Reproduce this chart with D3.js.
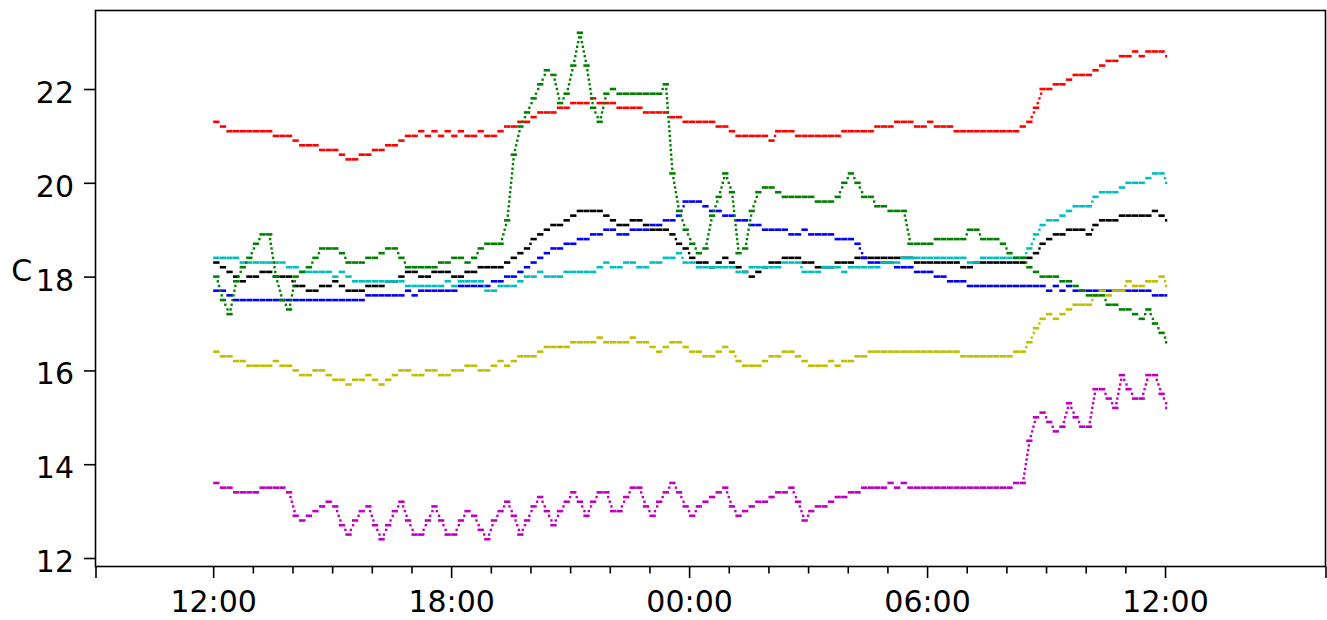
<!DOCTYPE html>
<html><head><meta charset="utf-8">
<script src="https://cdn.jsdelivr.net/npm/d3@7"></script>
<style>
body{margin:0;background:#fff}
text{font-family:"DejaVu Sans",sans-serif}
</style>
</head><body>
<svg id="chart" width="1327" height="620"></svg>
<script>
// ---- data (10-minute samples from 12:00 to 12:00 next day) ----
const startTime = new Date(2021, 0, 1, 12, 0, 0);
const stepMinutes = 10;
const majorTickLabels = ["12:00", "18:00", "00:00", "06:00", "12:00"];
const yTickValues = [12, 14, 16, 18, 20, 22];
const yLabel = "C";

const redValues = [21.3,21.2,21.1,21.1,21.1,21.1,21.1,21.1,21.1,21.0,
21.0,21.0,20.9,20.8,20.8,20.8,20.7,20.7,20.7,20.6,
20.5,20.5,20.6,20.6,20.7,20.7,20.8,20.8,20.9,21.0,
21.0,21.1,21.0,21.1,21.0,21.1,21.0,21.1,21.0,21.0,
21.1,21.0,21.0,21.1,21.2,21.2,21.3,21.3,21.4,21.5,
21.5,21.5,21.6,21.6,21.7,21.7,21.7,21.8,21.7,21.7,
21.7,21.6,21.6,21.6,21.6,21.5,21.5,21.5,21.5,21.4,
21.4,21.3,21.3,21.3,21.3,21.3,21.2,21.2,21.1,21.0,
21.0,21.0,21.0,21.0,20.9,21.1,21.1,21.1,21.0,21.0,
21.0,21.0,21.0,21.0,21.0,21.1,21.1,21.1,21.1,21.1,
21.2,21.2,21.2,21.3,21.3,21.3,21.2,21.2,21.3,21.2,
21.2,21.2,21.1,21.1,21.1,21.1,21.1,21.1,21.1,21.1,
21.1,21.1,21.2,21.3,21.6,22.0,22.0,22.1,22.1,22.2,
22.3,22.3,22.3,22.4,22.5,22.6,22.6,22.7,22.7,22.8,
22.7,22.8,22.8,22.8,22.7];

const greenValues = [18.0,17.5,17.2,17.9,18.2,18.4,18.7,18.9,18.9,18.0,
17.5,17.3,18.0,18.1,18.2,18.4,18.6,18.6,18.6,18.5,
18.3,18.3,18.3,18.4,18.4,18.5,18.6,18.6,18.4,18.2,
18.2,18.2,18.2,18.2,18.3,18.3,18.4,18.4,18.3,18.4,
18.6,18.7,18.7,18.7,19.2,20.6,21.2,21.5,21.8,22.1,
22.4,22.3,21.7,21.9,22.5,23.2,22.5,21.6,21.3,21.9,
22.0,21.9,21.9,21.9,21.9,21.9,21.9,21.9,22.1,20.2,
19.4,19.0,18.7,18.5,18.6,19.3,19.7,20.2,19.8,18.5,
18.6,19.4,19.8,19.9,19.9,19.8,19.7,19.7,19.7,19.7,
19.7,19.6,19.6,19.6,19.7,20.0,20.2,20.0,19.7,19.7,
19.5,19.5,19.4,19.4,19.4,18.7,18.7,18.7,18.7,18.8,
18.8,18.8,18.8,18.8,19.0,19.0,18.8,18.8,18.8,18.7,
18.5,18.4,18.4,18.2,18.1,18.0,18.0,18.0,17.9,17.9,
17.8,17.7,17.6,17.6,17.6,17.4,17.4,17.3,17.3,17.2,
17.1,17.3,17.0,16.8,16.6];

const cyanValues = [18.4,18.4,18.4,18.4,18.3,18.3,18.3,18.3,18.3,18.3,
18.3,18.2,18.2,18.1,18.1,18.1,18.1,18.1,18.0,18.1,
18.0,17.9,17.9,17.9,17.9,17.9,17.9,17.9,17.9,17.8,
17.8,17.8,17.8,17.8,17.8,17.9,17.8,17.9,17.9,17.9,
17.9,17.7,17.7,17.8,17.8,17.8,17.9,18.0,18.0,18.1,
18.0,18.0,18.0,18.1,18.1,18.1,18.1,18.1,18.2,18.3,
18.2,18.2,18.3,18.3,18.2,18.2,18.3,18.3,18.4,18.4,
18.5,18.3,18.3,18.2,18.2,18.2,18.2,18.2,18.2,18.1,
18.1,18.2,18.2,18.2,18.2,18.2,18.3,18.3,18.3,18.1,
18.1,18.1,18.2,18.2,18.2,18.1,18.2,18.2,18.2,18.2,
18.2,18.3,18.3,18.3,18.4,18.4,18.4,18.4,18.4,18.4,
18.4,18.4,18.4,18.4,18.3,18.3,18.4,18.4,18.4,18.4,
18.4,18.4,18.4,18.6,18.9,19.1,19.2,19.2,19.3,19.4,
19.5,19.5,19.5,19.7,19.8,19.8,19.8,19.9,20.0,20.0,
20.0,20.1,20.2,20.2,20.0];

const blackValues = [18.3,18.2,18.1,18.0,17.9,18.0,18.0,18.1,18.1,18.0,
18.0,18.0,17.8,17.8,17.7,17.7,17.8,17.8,17.9,17.8,
17.7,17.7,17.7,17.8,17.8,17.8,17.9,17.9,18.0,18.1,
18.1,18.0,18.0,18.1,18.1,18.1,18.0,18.0,18.1,18.1,
18.2,18.2,18.2,18.2,18.3,18.4,18.5,18.6,18.8,18.9,
19.0,19.1,19.1,19.2,19.3,19.4,19.4,19.4,19.4,19.3,
19.2,19.1,19.1,19.2,19.2,19.1,19.0,19.0,19.0,18.9,
18.7,18.6,18.4,18.3,18.3,18.2,18.3,18.4,18.3,18.2,
18.1,18.0,18.1,18.2,18.3,18.3,18.4,18.4,18.4,18.3,
18.3,18.2,18.2,18.2,18.3,18.3,18.3,18.4,18.4,18.4,
18.4,18.4,18.4,18.4,18.4,18.4,18.3,18.3,18.3,18.3,
18.3,18.3,18.3,18.2,18.2,18.3,18.3,18.3,18.3,18.3,
18.3,18.3,18.3,18.4,18.5,18.7,18.8,18.9,18.9,19.0,
19.0,19.0,18.9,19.1,19.2,19.2,19.2,19.3,19.3,19.3,
19.3,19.3,19.4,19.3,19.2];

const blueValues = [17.7,17.7,17.6,17.5,17.5,17.5,17.5,17.5,17.5,17.5,
17.5,17.5,17.5,17.5,17.5,17.5,17.5,17.5,17.5,17.5,
17.5,17.5,17.5,17.6,17.6,17.6,17.6,17.6,17.6,17.7,
17.6,17.7,17.7,17.7,17.7,17.7,17.7,17.8,17.8,17.8,
17.8,17.8,17.9,17.9,18.0,18.0,18.1,18.2,18.3,18.4,
18.5,18.6,18.6,18.7,18.7,18.8,18.8,18.9,18.9,19.0,
19.0,18.9,18.9,19.0,19.0,19.0,19.1,19.1,19.2,19.2,
19.3,19.6,19.6,19.6,19.5,19.4,19.4,19.3,19.3,19.2,
19.2,19.1,19.1,19.0,19.0,19.0,19.0,18.9,18.9,19.0,
18.9,18.9,18.9,18.9,18.8,18.8,18.8,18.7,18.4,18.3,
18.3,18.3,18.3,18.2,18.2,18.2,18.1,18.1,18.1,18.0,
18.0,17.9,17.9,17.9,17.8,17.8,17.8,17.8,17.8,17.8,
17.8,17.8,17.8,17.8,17.8,17.8,17.7,17.8,17.7,17.8,
17.7,17.7,17.7,17.7,17.7,17.7,17.7,17.7,17.7,17.7,
17.7,17.7,17.6,17.6,17.6];

const yellowValues = [16.4,16.3,16.3,16.2,16.2,16.1,16.1,16.1,16.1,16.2,
16.1,16.1,16.0,15.9,15.9,16.0,16.0,15.9,15.8,15.8,
15.7,15.8,15.8,15.9,15.8,15.7,15.8,15.9,16.0,16.0,
15.9,15.9,16.0,16.0,15.9,15.9,16.0,16.0,16.1,16.1,
16.0,16.0,16.1,16.2,16.1,16.2,16.3,16.3,16.3,16.4,
16.5,16.5,16.5,16.5,16.6,16.6,16.6,16.6,16.7,16.6,
16.6,16.6,16.6,16.7,16.6,16.6,16.5,16.4,16.5,16.6,
16.6,16.5,16.4,16.4,16.3,16.3,16.4,16.5,16.4,16.2,
16.1,16.1,16.1,16.2,16.3,16.3,16.4,16.4,16.3,16.2,
16.1,16.1,16.1,16.2,16.1,16.2,16.2,16.3,16.3,16.4,
16.4,16.4,16.4,16.4,16.4,16.4,16.4,16.4,16.4,16.4,
16.4,16.4,16.4,16.3,16.3,16.3,16.3,16.3,16.3,16.3,
16.3,16.4,16.4,16.6,16.9,17.1,17.2,17.1,17.2,17.3,
17.4,17.4,17.4,17.6,17.7,17.6,17.7,17.7,17.9,17.8,
17.8,17.9,17.9,18.0,17.8];

const magentaValues = [13.6,13.5,13.5,13.4,13.4,13.4,13.4,13.5,13.5,13.5,
13.5,13.4,12.9,12.8,12.9,13.0,13.1,13.2,13.1,12.7,
12.5,12.8,13.0,13.1,12.7,12.4,12.7,13.0,13.2,12.8,
12.5,12.5,12.8,13.1,12.8,12.5,12.5,12.8,13.0,12.9,
12.6,12.4,12.8,13.0,13.2,12.9,12.5,12.8,13.1,13.3,
13.0,12.7,13.0,13.2,13.4,13.2,12.9,13.2,13.4,13.4,
13.0,13.0,13.3,13.5,13.5,13.1,12.9,13.2,13.4,13.6,
13.4,13.1,12.9,13.1,13.2,13.3,13.4,13.5,13.1,12.9,
13.0,13.1,13.2,13.2,13.3,13.4,13.4,13.5,13.2,12.8,
13.0,13.1,13.1,13.2,13.3,13.3,13.4,13.4,13.5,13.5,
13.5,13.5,13.6,13.5,13.6,13.5,13.5,13.5,13.5,13.5,
13.5,13.5,13.5,13.5,13.5,13.5,13.5,13.5,13.5,13.5,
13.5,13.6,13.6,14.5,15.0,15.1,14.9,14.7,14.8,15.3,
15.0,14.8,14.8,15.6,15.6,15.4,15.2,15.9,15.6,15.4,
15.4,15.9,15.9,15.5,15.2];

// draw order (bottom to top) and matplotlib single-letter colours
const seriesList = [
  {values: blackValues, color: "#000000"},
  {values: blueValues, color: "#0000ff"},
  {values: cyanValues, color: "#00bfbf"},
  {values: yellowValues, color: "#bfbf00"},
  {values: redValues, color: "#ff0000"},
  {values: magentaValues, color: "#bf00bf"},
  {values: greenValues, color: "#008000"}
];

// ---- layout ----
const svg = d3.select("#chart");
const W = 1327, H = 620;
const plotLeft = 95.5, plotRight = 1325.5, plotTop = 10.5, plotBottom = 566.5;
const HOUR = 3600e3;
const timeAt = i => new Date(startTime.getTime() + i * stepMinutes * 60000);

const x = d3.scaleTime()
  .domain([new Date(startTime.getTime() - 2.967 * HOUR), new Date(startTime.getTime() + 28.046 * HOUR)])
  .range([plotLeft, plotRight]);
const y = d3.scaleLinear().domain([11.819, 23.674]).range([plotBottom, plotTop]);

svg.append("rect").attr("width", W).attr("height", H).attr("fill", "#fff");

const stepPx = x(timeAt(1)) - x(timeAt(0));
const plot = svg.append("g");
const markH = 2.6;

seriesList.forEach(s => {
  const g = plot.append("g").attr("fill", s.color);
  const n = s.values.length;
  g.selectAll("rect.seg").data(s.values).join("rect")
    .attr("class", "seg")
    .attr("x", (d, i) => x(timeAt(i)))
    .attr("y", d => y(d) - markH / 2)
    .attr("width", (d, i) => (i < n - 1 ? stepPx : 2.5) - 0.3)
    .attr("height", markH);
  // dotted transitions between consecutive samples (0.1 C levels)
  const dots = [];
  for (let i = 0; i < n - 1; i++) {
    const a = s.values[i], b = s.values[i + 1];
    const k = Math.round(Math.abs(b - a) * 10);
    if (k < 2) continue;
    const xa = x(timeAt(i)) + stepPx * 0.5, xb = x(timeAt(i + 1)) + stepPx * 0.5;
    for (let j = 1; j < k; j++) {
      const f = j / k;
      dots.push([xa + (xb - xa) * f, y(a + (b - a) * f)]);
    }
  }
  g.selectAll("rect.dot").data(dots).join("rect")
    .attr("class", "dot")
    .attr("x", d => d[0] - 1.2).attr("y", d => d[1] - 1.2)
    .attr("width", 2.4).attr("height", 2.4);
});

// ---- axes ----
const majorDates = majorTickLabels.map((l, i) => new Date(startTime.getTime() + i * 6 * HOUR));
const minorDates = d3.timeHour.range(new Date(startTime.getTime() + HOUR), new Date(startTime.getTime() + 24 * HOUR))
  .filter(d => d.getHours() % 6 !== 0);

function styleAxis(g) {
  g.select(".domain").remove();
  g.selectAll("line").attr("stroke", "#000").attr("stroke-width", 1.6);
  g.selectAll("text").attr("fill", "#000").attr("font-size", 30).attr("font-family", "DejaVu Sans, sans-serif");
}

svg.append("g").attr("transform", `translate(0,${plotBottom})`)
  .call(d3.axisBottom(x).tickValues(minorDates).tickSize(7).tickFormat(""))
  .call(styleAxis);
svg.append("g").attr("transform", `translate(0,${plotBottom})`)
  .call(d3.axisBottom(x).tickValues(x.domain()).tickSize(11.5).tickFormat(""))
  .call(styleAxis);
svg.append("g").attr("transform", `translate(0,${plotBottom})`)
  .call(d3.axisBottom(x).tickValues(majorDates).tickSize(11.5).tickPadding(12.4)
    .tickFormat((d, i) => majorTickLabels[i]))
  .call(styleAxis);

const yAxisG = svg.append("g").attr("transform", `translate(${plotLeft},0)`)
  .call(d3.axisLeft(y).tickValues(yTickValues).tickSize(11.5).tickPadding(10).tickFormat(d3.format("d")))
  .call(styleAxis);
yAxisG.selectAll("text").attr("dy", "0.45em");

svg.append("text").text(yLabel)
  .attr("x", 21.7).attr("y", 281)
  .attr("text-anchor", "middle").attr("font-size", 30).attr("fill", "#000");

// frame
svg.append("rect").attr("x", plotLeft).attr("y", plotTop)
  .attr("width", plotRight - plotLeft).attr("height", plotBottom - plotTop)
  .attr("fill", "none").attr("stroke", "#000").attr("stroke-width", 1.6);
</script>
</body></html>
